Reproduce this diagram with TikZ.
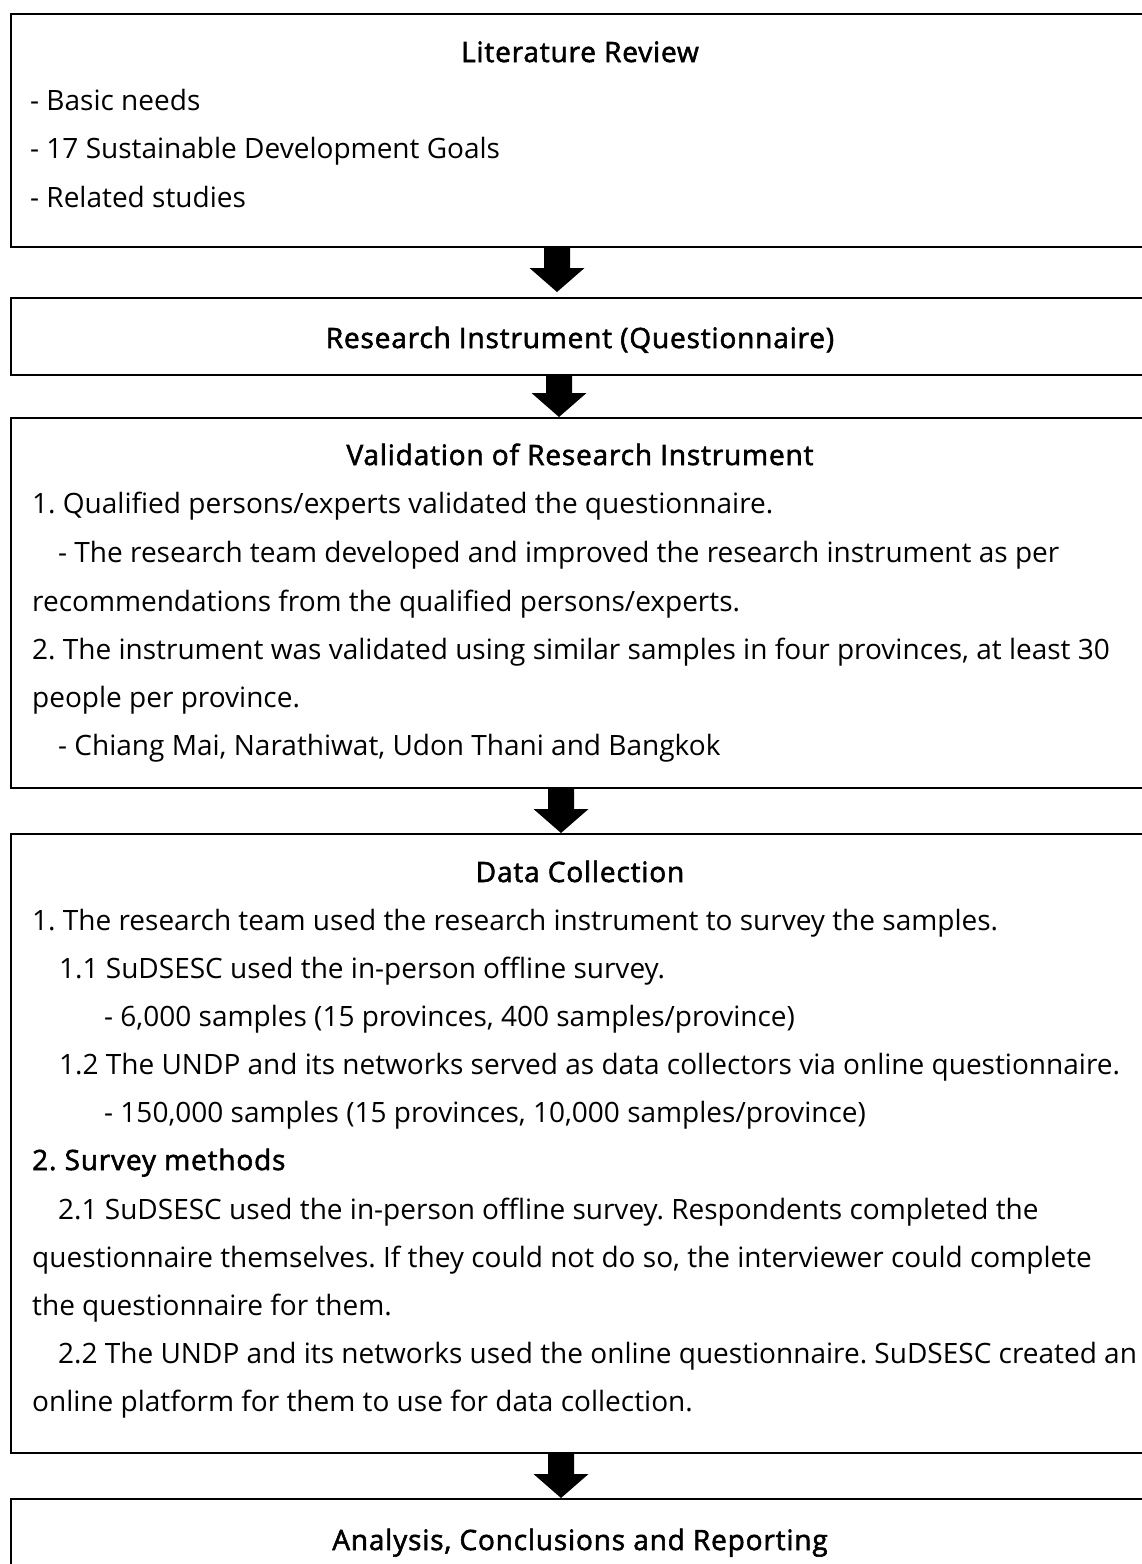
\documentclass[tikz,border=0pt]{standalone}
\usepackage{fontspec}
\setmainfont{Open Sans}
\newfontfamily\titlefont[FakeBold=2,LetterSpace=3]{Open Sans}
\usetikzlibrary{calc}
\frenchspacing
\tikzset{
  box/.style={draw=black, line width=2pt, rectangle, inner sep=0pt, anchor=north west, minimum width=1140pt},
  txt/.style={inner sep=0pt, anchor=base west, font=\fontsize{28}{34}\selectfont},
  ttl/.style={inner sep=0pt, anchor=base, font=\fontsize{28}{34}\selectfont\titlefont},
  flow/.style={fill=black}
}
\newcommand\flowarrow[2]{\fill[flow] ($(#1)+(-13,0)$) -- ($(#1)+(13,0)$) -- ($(#2)+(13,-24)$) -- ($(#2)+(27.5,-24)$) -- (#2) -- ($(#2)+(-27.5,-24)$) -- ($(#2)+(-13,-24)$) -- cycle;}
\begin{document}
\begin{tikzpicture}[x=1pt,y=-1pt]
\useasboundingbox (0,0) rectangle (1142,1564);
\clip (0,0) rectangle (1142,1564);
% boxes
\node[box, minimum height=233pt] (b1) at (10,13) {};
\node[box, minimum height=77pt] (b2) at (10,297) {};
\node[box, minimum height=370pt] (b3) at (10,417) {};
\node[box, minimum height=619pt] (b4) at (10,833) {};
\node[box, minimum height=100pt] (b5) at (10,1498) {};
% arrow alignment coordinates
\coordinate (ax1) at (557,0);
\coordinate (ax2) at (559,0);
\coordinate (ax3) at (561,0);
\coordinate (ax4) at (561,0);
\path (b1.south -| ax1) coordinate (s1) ($(b2.north -| ax1)+(0,-5)$) coordinate (t1);
\path (b2.south -| ax2) coordinate (s2) (b3.north -| ax2) coordinate (t2);
\path (b3.south -| ax3) coordinate (s3) (b4.north -| ax3) coordinate (t3);
\path (b4.south -| ax4) coordinate (s4) (b5.north -| ax4) coordinate (t4);
\flowarrow{s1}{t1}
\flowarrow{s2}{t2}
\flowarrow{s3}{t3}
\flowarrow{s4}{t4}
% box 1
\node[ttl] (h1) at (580,62) {Literature Review};
\node[txt] (l11) at (30,110) {- Basic needs};
\node[txt] (l12) at (30,158) {- 17 Sustainable Development Goals};
\node[txt] (l13) at (30,207) {- Related studies};
% box 2
\node[ttl] (h2) at (580,348) {Research Instrument (Questionnaire)};
% box 3
\node[ttl] (h3) at (580,465) {Validation of Research Instrument};
\node[txt] (l31) at (32,513) {1. Qualified persons/experts validated the questionnaire.};
\node[txt] (l32) at (58,562) {- The research team developed and improved the research instrument as per};
\node[txt] (l33) at (32,611) {recommendations from the qualified persons/experts.};
\node[txt] (l34) at (32,659) {2. The instrument was validated using similar samples in four provinces, at least 30};
\node[txt] (l35) at (32,707) {people per province.};
\node[txt] (l36) at (58,755) {- Chiang Mai, Narathiwat, Udon Thani and Bangkok};
% box 4
\node[ttl] (h4) at (580,882) {Data Collection};
\node[txt] (l41) at (32,930) {1. The research team used the research instrument to survey the samples.};
\node[txt] (l42) at (59,978) {1.1 SuDSESC used the in-person offline survey.};
\node[txt] (l43) at (104,1026) {- 6,000 samples (15 provinces, 400 samples/province)};
\node[txt] (l44) at (59,1074) {1.2 The UNDP and its networks served as data collectors via online questionnaire.};
\node[txt] (l45) at (104,1122) {- 150,000 samples (15 provinces, 10,000 samples/province)};
\node[txt, font=\fontsize{28}{34}\selectfont\titlefont] (l46) at (32,1170) {2. Survey methods};
\node[txt] (l47) at (58,1219) {2.1 SuDSESC used the in-person offline survey. Respondents completed the};
\node[txt] (l48) at (32,1267) {questionnaire themselves. If they could not do so, the interviewer could complete};
\node[txt] (l49) at (32,1315) {the questionnaire for them.};
\node[txt] (l410) at (58,1363) {2.2 The UNDP and its networks used the online questionnaire. SuDSESC created an};
\node[txt] (l411) at (32,1411) {online platform for them to use for data collection.};
% box 5
\node[ttl] (h5) at (580,1550) {Analysis, Conclusions and Reporting};
\end{tikzpicture}
\end{document}
